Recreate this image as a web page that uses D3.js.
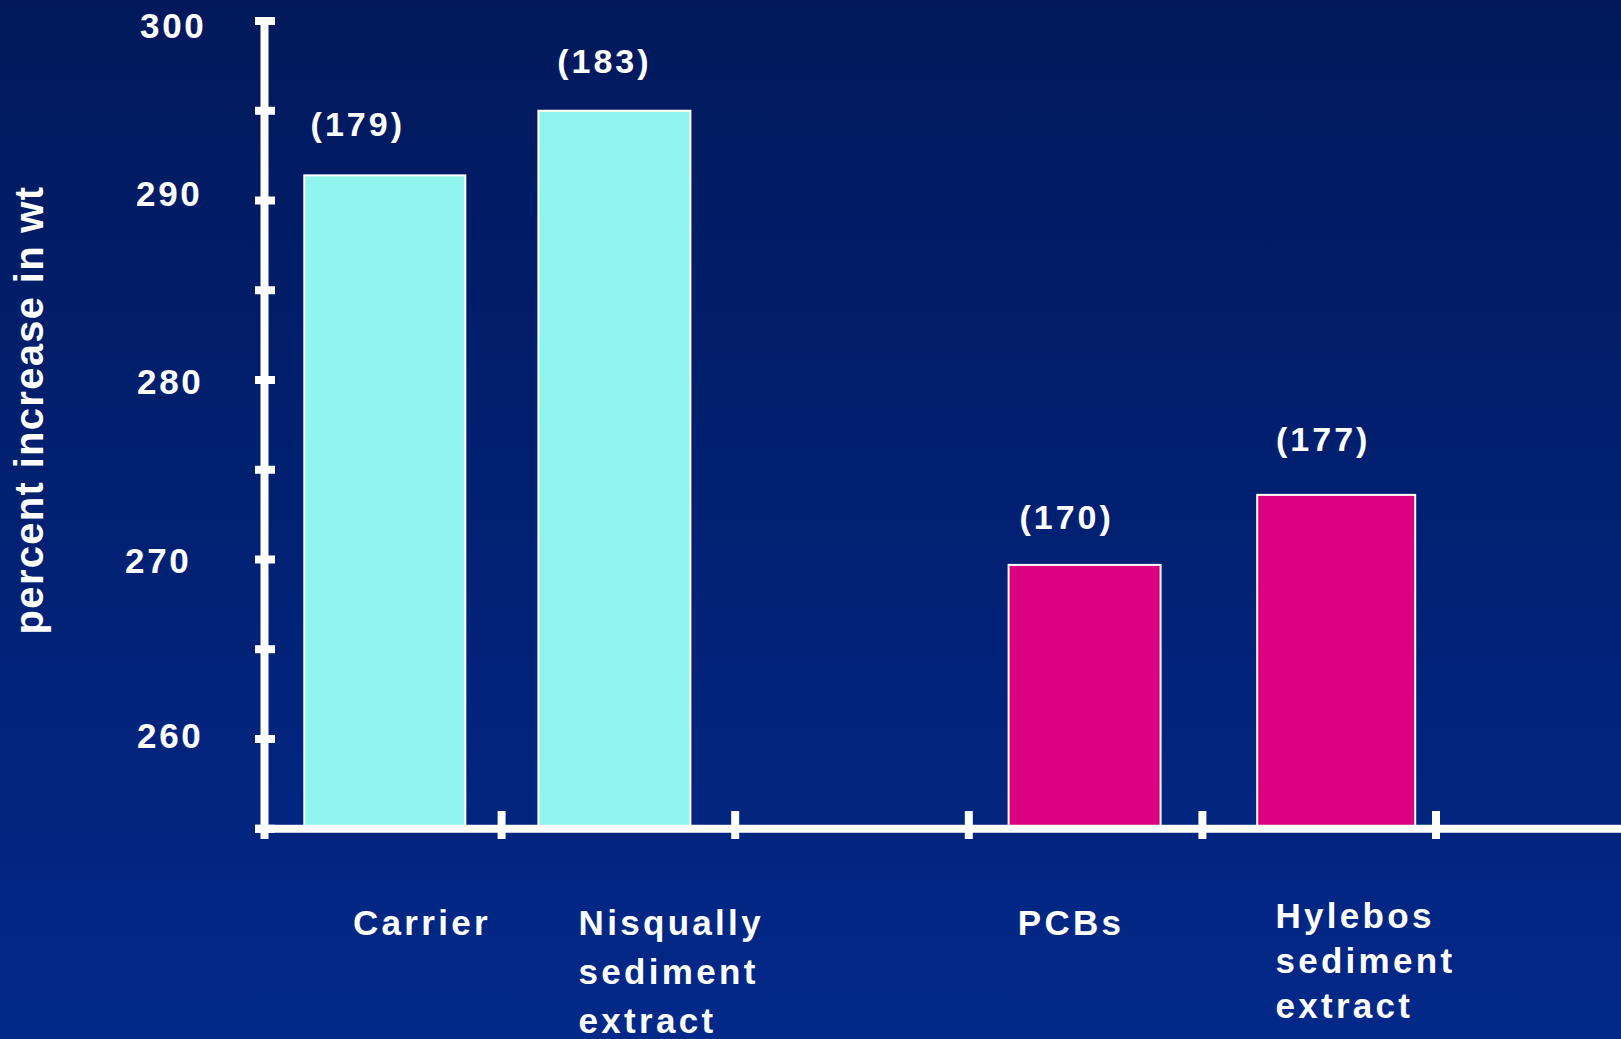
<!DOCTYPE html>
<html>
<head>
<meta charset="utf-8">
<script src="https://cdn.jsdelivr.net/npm/d3@7"></script>
<style>
  html, body { margin: 0; padding: 0; background: #011b60; }
  svg { display: block; }
  text { font-family: "Liberation Sans", Arial, sans-serif; font-weight: bold; fill: #ffffff; }
</style>
</head>
<body>
<svg id="chart" width="1621" height="1039"></svg>
<script>
// ---- data ----
const categories = ["Carrier", "Nisqually sediment extract", "PCBs", "Hylebos sediment extract"];
const categoryLines = [["Carrier"], ["Nisqually", "sediment", "extract"], ["PCBs"], ["Hylebos", "sediment", "extract"]];
const slots = ["Carrier", "Nisqually sediment extract", "(gap)", "PCBs", "Hylebos sediment extract"];
const values = [291.4, 295.0, 269.7, 273.6];
const sampleSizes = [179, 183, 170, 177];
const groups = ["reference", "reference", "contaminant", "contaminant"];
const yTickValues = [255, 260, 265, 270, 275, 280, 285, 290, 295, 300];
const yTickLabels = [260, 270, 280, 290, 300];
const yTitle = "percent increase in wt";

// ---- layout ----
const W = 1621, H = 1039;
const axisX = 264.5;
const axisW = 8;
const barWidths = [161, 152, 152, 158];
const barShift = [0, -4, -1, 17];
const valueLabelDx = [-27, -10, -18, -13];
const valueLabelDy = [39, 38, 36, 44];
const catLabelDx = [85, 77, 49, 73];
const catBaseline = [935, 935, 935, 928];
const catLineGap = [49, 49, 49, 45];
const tickLabelNudgeX = {260: 0, 270: -12, 280: 0, 290: -1, 300: 3};
const tickLabelNudgeY = {260: -5, 270: -1, 280: 0, 290: -9, 300: 3};
const colors = { reference: "#8ef4ec", contaminant: "#dc0080" };

const svg = d3.select("#chart");

// background gradient
const defs = svg.append("defs");
const grad = defs.append("linearGradient").attr("id", "bg").attr("x1", 0).attr("y1", 0).attr("x2", 0).attr("y2", 1);
grad.append("stop").attr("offset", "0%").attr("stop-color", "#01195c");
grad.append("stop").attr("offset", "100%").attr("stop-color", "#022889");
svg.append("rect").attr("width", W).attr("height", H).attr("fill", "url(#bg)");

// scales
const y = d3.scaleLinear().domain([255, 300]).range([828.75, 21]);
const x = d3.scaleBand().domain(slots).range([268, 1436]).paddingInner(0).paddingOuter(0);
const bw = x.bandwidth();

// bars
svg.append("g").selectAll("rect").data(categories).join("rect")
  .attr("x", (d, i) => x(d) + (bw - barWidths[i]) / 2 + barShift[i])
  .attr("y", (d, i) => y(values[i]))
  .attr("width", (d, i) => barWidths[i])
  .attr("height", (d, i) => y(255) - y(values[i]))
  .attr("fill", (d, i) => colors[groups[i]])
  .attr("stroke", "#ffffff")
  .attr("stroke-width", 2);

// value labels (n)
svg.append("g").selectAll("text").data(categories).join("text")
  .attr("x", (d, i) => x(d) + bw / 2 + barShift[i] + valueLabelDx[i])
  .attr("y", (d, i) => y(values[i]) - valueLabelDy[i])
  .attr("text-anchor", "middle")
  .style("font-size", "34px")
  .style("letter-spacing", "3px")
  .text((d, i) => "(" + sampleSizes[i] + ")");

// y axis line
svg.append("rect")
  .attr("x", axisX - axisW / 2).attr("y", y(300) - 4)
  .attr("width", axisW).attr("height", 839 - (y(300) - 4))
  .attr("fill", "#ffffff");

// y ticks
svg.append("g").selectAll("rect").data(yTickValues).join("rect")
  .attr("x", axisX - 9.5).attr("y", d => y(d) - 4)
  .attr("width", 20).attr("height", 8)
  .attr("fill", "#ffffff");

// y tick labels
svg.append("g").selectAll("text").data(yTickLabels).join("text")
  .attr("x", d => axisX - 61 + tickLabelNudgeX[d])
  .attr("y", d => y(d) + 14 + tickLabelNudgeY[d])
  .attr("text-anchor", "end")
  .style("font-size", "35px")
  .style("letter-spacing", "2.7px")
  .text(d => d);

// x axis line
svg.append("rect")
  .attr("x", axisX - 9.5).attr("y", y(255) - 4)
  .attr("width", W - (axisX - 9.5)).attr("height", 8)
  .attr("fill", "#ffffff");

// x ticks at slot boundaries
const boundaries = slots.slice(1).map(s => x(s)).concat([x(slots[slots.length - 1]) + bw]);
svg.append("g").selectAll("rect").data(boundaries).join("rect")
  .attr("x", d => d - 4).attr("y", 811)
  .attr("width", 8).attr("height", 28)
  .attr("fill", "#ffffff");

// category labels
const cl = svg.append("g").selectAll("text").data(categories).join("text")
  .attr("x", (d, i) => x(d) + catLabelDx[i])
  .attr("y", (d, i) => catBaseline[i])
  .style("font-size", "35px")
  .style("letter-spacing", "3.3px");
cl.each(function(d, i) {
  const t = d3.select(this);
  categoryLines[i].forEach((line, j) => {
    t.append("tspan")
      .attr("x", x(d) + catLabelDx[i])
      .attr("y", catBaseline[i] + j * catLineGap[i])
      .text(line);
  });
});

// y title
svg.append("text")
  .attr("transform", "translate(43,410) rotate(-90)")
  .attr("text-anchor", "middle")
  .style("font-size", "40px")
  .style("letter-spacing", "1.3px")
  .text(yTitle);
</script>
</body>
</html>
